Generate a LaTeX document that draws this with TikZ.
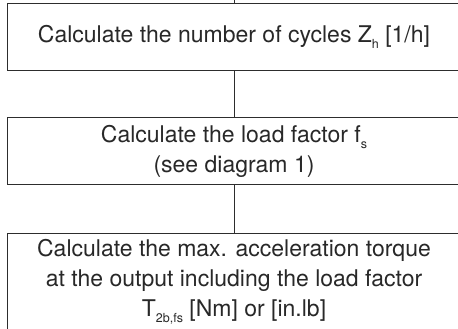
\documentclass[tikz,border=0pt]{standalone}
\usepackage{fontspec}
\setmainfont{TeX Gyre Heros}
\usepackage{tikz}
\usetikzlibrary{positioning}
\definecolor{boxline}{RGB}{45,45,45}
\definecolor{boxtext}{RGB}{40,40,40}
\newcommand{\lowsub}[1]{\raisebox{-0.5ex}{\fontsize{12.5}{12.5}\selectfont #1}}

\begin{document}
\begin{tikzpicture}[x=1pt, y=1pt,
    step box/.style={rectangle, draw=boxline, line width=1pt, fill=white, inner sep=0pt,
                  minimum width=453pt, minimum height=67pt, align=center, text=boxtext,
                  font=\fontsize{23}{30}\selectfont},
    link/.style={draw=boxline, line width=0.9pt}
]
\useasboundingbox (0,0) rectangle (458,329);
\coordinate (entry) at (234,331);
\node[step box] (cycles) at (234,292) {Calculate the number of cycles Z\lowsub{h} [1/h]};
\node[step box, below=46.5pt of cycles] (factor) {Calculate the load factor f\lowsub{s}\\(see diagram 1)};
\node[step box, below=48pt of factor, minimum height=96pt] (torque) {Calculate the max. acceleration torque\\at the output including the load factor\\T\lowsub{2b,fs} [Nm] or [in.lb]};

\draw[link] (entry) -- (cycles.north);
\draw[link] (cycles.south) -- (factor.north);
\draw[link] (factor.south) -- (torque.north);
\end{tikzpicture}
\end{document}
